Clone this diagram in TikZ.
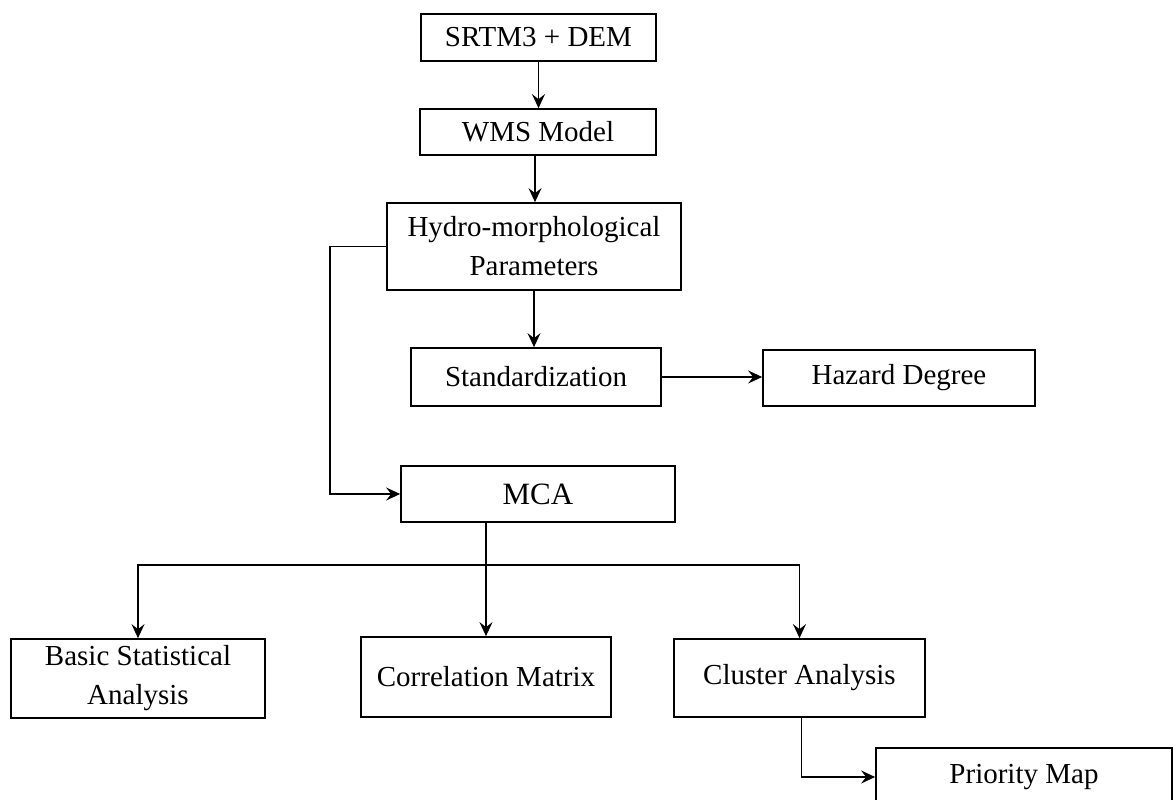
\documentclass[tikz,border=0pt]{standalone}
\usepackage{fontspec}
\setmainfont{Liberation Serif}
\usetikzlibrary{arrows.meta}
\begin{document}
\begin{tikzpicture}[x=1pt,y=-1pt,
  box/.style={draw, line width=1.7pt, inner sep=0pt, align=center, font=\fontsize{29}{39}\selectfont},
  conn/.style={line width=1.7pt, -{Stealth[length=14pt,width=13pt,inset=5pt]}},
  plainline/.style={line width=1.7pt}]
\useasboundingbox (0,0) rectangle (1176,800);
\node[box, minimum width=235pt, minimum height=47pt] (srtm) at (538.5,37.5) {SRTM3 + DEM};
\node[box, minimum width=236pt, minimum height=46pt] (wms) at (538,132) {WMS Model};
\node[box, minimum width=294pt, minimum height=87pt] (hydro) at (534,246.5) {Hydro-morphological\\Parameters};
\node[box, minimum width=250pt, minimum height=58pt] (std) at (536,377) {Standardization};
\node[box, minimum width=272pt, minimum height=56pt] (hazard) at (899,378) {Hazard Degree};
\node[box, minimum width=274pt, minimum height=56pt, font=\fontsize{31}{39}\selectfont] (mca) at (538,494) {MCA};
\node[box, minimum width=254pt, minimum height=79pt] (basic) at (138,678.5) {Basic Statistical\\Analysis};
\node[box, minimum width=250pt, minimum height=80pt] (corr) at (486,677) {Correlation Matrix};
\node[box, minimum width=251pt, minimum height=78pt] (cluster) at (799.5,678) {Cluster Analysis};
\node[box, minimum width=296pt, minimum height=58pt] (priority) at (1024,777) {Priority Map};
\draw[conn] (srtm.south) -- (srtm.south |- wms.north);
\draw[conn] ([xshift=-3pt]wms.south) -- ([xshift=-3pt]wms.south |- hydro.north);
\draw[conn] (hydro.south) -- (hydro.south |- std.north);
\draw[conn] (std.east) -- (std.east -| hazard.west);
\draw[conn] (hydro.west) -- ++(-56,0) |- (mca.west);
\coordinate (hb) at (486,565);
\draw[conn] (corr.north |- mca.south) -- (corr.north);
\draw[conn] (hb) -| (basic.north);
\draw[conn] (hb) -| (cluster.north);
\draw[conn] ([xshift=2pt]cluster.south) |- (priority.west);
\end{tikzpicture}
\end{document}
